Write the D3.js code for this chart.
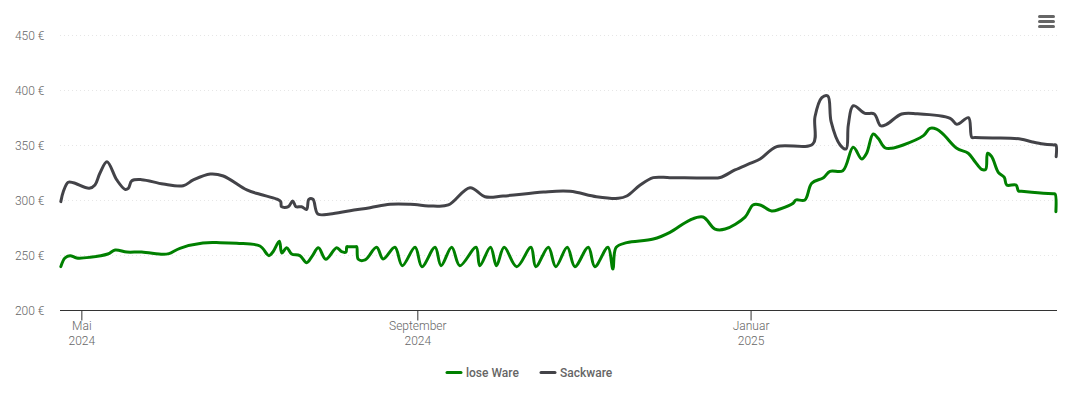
<!DOCTYPE html>
<html>
<head>
<meta charset="utf-8">
<script src="https://cdn.jsdelivr.net/npm/d3@7"></script>
<style>
	html, body { margin: 0; padding: 0; background: #fff; }
	svg { display: block; font-family: Roboto, sans-serif; }
</style>
</head>
<body>
<script>
// x values are days since the first day of the chart
var startDay = new Date(2024, 3, 23);
var endDay = new Date(2025, 3, 23);

var yTicks = [200, 250, 300, 350, 400, 450];
var xTickDates = [new Date(2024, 4, 1), new Date(2024, 8, 1), new Date(2025, 0, 1)];
var xTickMonths = ['Mai', 'September', 'Januar'];
var xTickYears = ['2024', '2024', '2025'];

var loseDays = [0.3, 1.8, 3.7, 6.1, 11, 17.5, 20.2, 24.5, 29.9, 37.7, 39.9, 43.9, 52.3, 58.6, 64.7, 73.2, 76.5, 78, 80.3, 81.2, 83, 84.8, 87.8, 90.3, 92.2, 94.6, 97.3, 101.3, 103.1, 104.7, 105, 105.6, 108, 108.6, 109.2, 111.7, 115.9, 118.3, 122.6, 125.3, 130, 132.5, 137.3, 139.5, 143.4, 146.4, 152.3, 153.7, 157.6, 159.8, 162.6, 167.2, 172.4, 174.2, 178.8, 181.5, 185.7, 188.5, 193.4, 195.8, 200.6, 202.4, 203.6, 207.5, 217.2, 223.3, 230.6, 235.4, 239.8, 243.5, 250.8, 253.7, 256.3, 260.5, 263.6, 268.4, 269.4, 272.7, 275.2, 279.5, 281.9, 286.6, 290.4, 293.5, 295.3, 297.7, 299.5, 302, 304.4, 308.7, 316.1, 318.5, 320.9, 323.4, 328.3, 332.5, 335, 337.4, 338.9, 339.6, 341.1, 343.5, 345.7, 346.6, 350, 350.9, 352, 358, 363.6, 364.3, 364.6];
var loseValues = [239.4, 247.3, 249.4, 247.3, 247.9, 250.9, 254.5, 252.7, 252.7, 250.6, 251.2, 256.1, 260.9, 261.2, 260.6, 258.2, 249.4, 253, 262.5, 251.8, 256.6, 250.9, 249.4, 243, 248.5, 256.6, 246.1, 256.6, 253, 252.7, 257.5, 257.5, 257.5, 257.5, 246.1, 245.5, 257, 246.4, 257, 240.3, 257, 239.4, 257, 240.3, 257, 240.3, 257, 240.3, 257, 240.3, 257, 239.4, 257, 239.4, 257, 239.4, 257, 239.4, 257, 239.4, 257, 237.3, 257, 261.2, 264.5, 270.6, 281.8, 284.5, 273.6, 273.6, 284.5, 295.5, 295.5, 290, 291.8, 297, 300, 300, 315.2, 320.3, 326.1, 326.6, 347.9, 337.3, 342.5, 360, 356.1, 347.5, 347, 350, 358.5, 365.2, 364.5, 359.7, 347, 342.5, 334.8, 327.9, 327.9, 342.5, 339.4, 325.2, 320.6, 313.6, 313.6, 308.2, 307.9, 306.6, 305.6, 305.5, 289.4];

var sackDays = [0.3, 1.2, 3, 4.9, 10.7, 12.8, 14.6, 17.2, 20.8, 23.8, 25, 26.3, 29.9, 37.8, 45.1, 48.8, 55, 59.8, 68.4, 73.2, 79.3, 80.8, 81.1, 83.6, 85.2, 86.4, 88.4, 90.3, 91.1, 92.6, 94.4, 98.9, 106.2, 113.5, 120.8, 128.2, 136.7, 142.2, 150.1, 155.6, 162.2, 177, 186.7, 196.4, 204.4, 207.5, 212.4, 217.2, 223.3, 238, 241.7, 247.1, 252.6, 256.3, 262.4, 275.6, 276.4, 278.9, 281.1, 282.3, 285.6, 287.8, 288.6, 290.4, 294.7, 298.1, 300.4, 302.6, 308.1, 313.7, 325.9, 328.3, 332.6, 333.8, 335, 342, 348, 352, 356, 360, 363.8, 364.6, 364.7];
var sackValues = [298.5, 307.5, 316.1, 315.7, 310.6, 313.6, 324.3, 334.8, 318.2, 309.7, 310.6, 317.5, 318.5, 314.5, 313, 318.2, 323.6, 321.8, 309.1, 305.2, 300.9, 298.5, 293.9, 293.9, 299.1, 293.9, 293.9, 291.5, 300.6, 300.6, 287.3, 287.3, 290.3, 293, 296.1, 296.1, 294.5, 295.5, 311.2, 303, 303.6, 307.3, 307.9, 303, 301.5, 303.6, 313.6, 320.3, 320.3, 320, 320.5, 327.3, 333.2, 337.3, 348.5, 350.9, 375.7, 393, 394.5, 371.2, 350, 346.4, 368.2, 385.7, 378.8, 378.2, 367.5, 368.8, 378.2, 378.5, 374.3, 368.8, 374.8, 357, 356.8, 356.4, 356.2, 355.2, 352.8, 350.9, 350.1, 350, 339.4];

var seriesNames = ['lose Ware', 'Sackware'];
var seriesColors = ['#008000', '#434348'];

var width = 1067, height = 406;
var margin = {top: 35, right: 10, bottom: 96, left: 60};

var svg = d3.select('body').append('svg')
	.attr('width', width)
	.attr('height', height);

var x = d3.scaleTime()
	.domain([startDay, endDay])
	.range([margin.left, width - margin.right]);

var y = d3.scaleLinear()
	.domain([200, 450])
	.range([height - margin.bottom, margin.top]);

function toDate(day) {
	return new Date(startDay.getTime() + day * 864e5);
}

// horizontal grid and y labels
var yAxis = d3.axisLeft(y)
	.tickValues(yTicks)
	.tickSize(-(width - margin.left - margin.right))
	.tickPadding(15.5)
	.tickFormat(function (d) { return d + ' €'; });

var yGroup = svg.append('g')
	.attr('transform', 'translate(' + margin.left + ',0)')
	.call(yAxis);
yGroup.select('.domain').remove();
yGroup.selectAll('.tick line')
	.attr('stroke', '#e6e6e6')
	.attr('stroke-dasharray', '1,3');
yGroup.selectAll('.tick text')
	.attr('fill', '#666')
	.attr('dy', '0.36em')
	.style('font-family', 'Roboto, sans-serif')
	.style('font-size', '12px')
	.style('font-weight', 300);

// x axis, two line labels
var xAxis = d3.axisBottom(x)
	.tickValues(xTickDates)
	.tickSizeInner(10)
	.tickSizeOuter(0)
	.offset(0)
	.tickFormat('');

var xGroup = svg.append('g')
	.attr('transform', 'translate(0,' + (height - margin.bottom + 0.5) + ')')
	.call(xAxis);
xGroup.select('.domain')
	.attr('stroke', '#333');
xGroup.selectAll('.tick line')
	.attr('stroke', '#333');

var xLabels = svg.append('g')
	.selectAll('text')
	.data(xTickDates)
	.enter()
	.append('text')
	.attr('text-anchor', 'middle')
	.attr('fill', '#666')
	.style('font-size', '12px')
	.style('font-weight', 300)
	.attr('transform', function (d) { return 'translate(' + x(d) + ',0)'; });
xLabels.append('tspan')
	.attr('x', 0)
	.attr('y', 330)
	.text(function (d, i) { return xTickMonths[i]; });
xLabels.append('tspan')
	.attr('x', 0)
	.attr('y', 345)
	.text(function (d, i) { return xTickYears[i]; });

// the two lines
var line = d3.line()
	.x(function (d) { return x(toDate(d[0])); })
	.y(function (d) { return y(d[1]); })
	.curve(d3.curveCatmullRom.alpha(0.5));

var lines = [d3.zip(loseDays, loseValues), d3.zip(sackDays, sackValues)];

svg.selectAll('.series')
	.data(lines)
	.enter()
	.append('path')
	.attr('class', 'series')
	.attr('fill', 'none')
	.attr('stroke', function (d, i) { return seriesColors[i]; })
	.attr('stroke-width', 3)
	.attr('stroke-linejoin', 'round')
	.attr('stroke-linecap', 'round')
	.attr('d', line);

// legend
var legendX = [446, 540];
var legend = svg.selectAll('.legend')
	.data(seriesNames)
	.enter()
	.append('g')
	.attr('class', 'legend')
	.attr('transform', function (d, i) { return 'translate(' + legendX[i] + ',372.5)'; });
legend.append('line')
	.attr('x1', 1)
	.attr('x2', 15)
	.attr('stroke', function (d, i) { return seriesColors[i]; })
	.attr('stroke-width', 3)
	.attr('stroke-linecap', 'round');
legend.append('text')
	.attr('x', 20)
	.attr('y', 4)
	.attr('fill', '#666')
	.style('font-size', '12px')
	.style('font-weight', 500)
	.text(function (d) { return d; });

// menu button
svg.append('g')
	.selectAll('line')
	.data([16.5, 21.5, 26.5])
	.enter()
	.append('line')
	.attr('x1', 1039.5)
	.attr('x2', 1053.5)
	.attr('y1', function (d) { return d; })
	.attr('y2', function (d) { return d; })
	.attr('stroke', '#666')
	.attr('stroke-width', 3)
	.attr('stroke-linecap', 'round');
</script>
</body>
</html>
